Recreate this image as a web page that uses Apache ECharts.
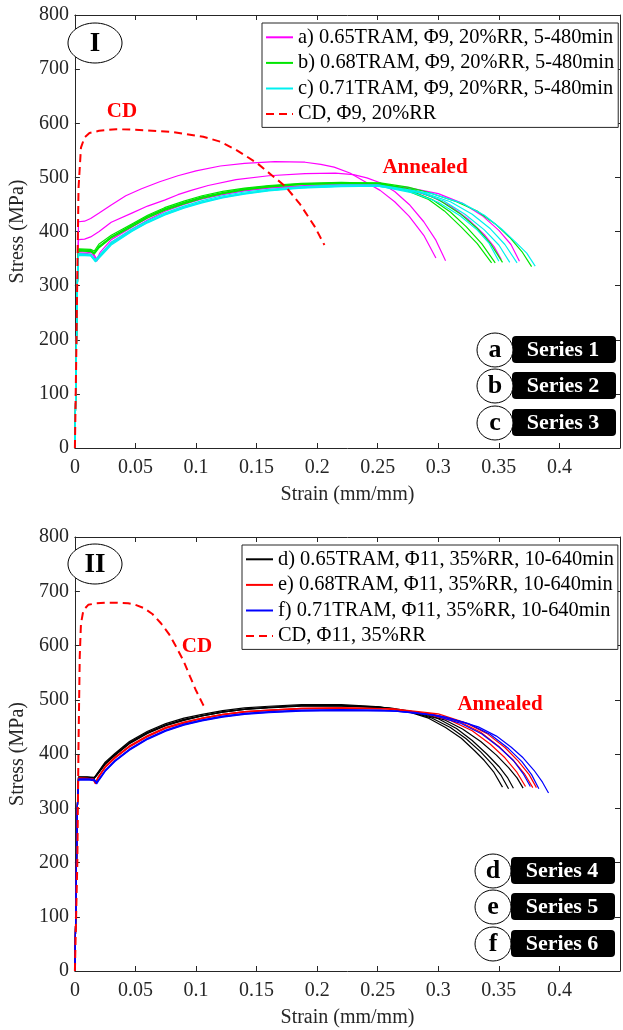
<!DOCTYPE html>
<html><head><meta charset="utf-8">
<script src="https://cdn.jsdelivr.net/npm/echarts@6/dist/echarts.min.js"></script>
<style>html,body{margin:0;padding:0;background:#fff}#c{width:623px;height:1030px}</style>
</head><body><div id="c"></div>
<script>
// ---------- Panel I data (strain, stress MPa) ----------
const namesI = ['a) 0.65TRAM, \u03A69, 20%RR, 5-480min','b) 0.68TRAM, \u03A69, 20%RR, 5-480min','c) 0.71TRAM, \u03A69, 20%RR, 5-480min','CD, \u03A69, 20%RR'];
const a1 = [[0,0],[0.002,310],[0.003,418],[0.008,419],[0.013,424],[0.02,434],[0.03,449],[0.042,466],[0.055,479],[0.07,492],[0.085,503],[0.1,512],[0.12,521],[0.14,526],[0.165,529],[0.19,528],[0.203,524],[0.214,519],[0.227,508],[0.241,490],[0.252,476],[0.264,455],[0.276,428],[0.288,393],[0.298,351]];
const a2 = [[0,0],[0.002,310],[0.003,385],[0.008,386],[0.013,390],[0.02,400],[0.03,417],[0.047,434],[0.06,447],[0.074,458],[0.085,468],[0.096,476],[0.11,485],[0.133,496],[0.16,503],[0.19,507],[0.215,508],[0.23,505],[0.241,499],[0.252,490],[0.264,474],[0.276,450],[0.288,418],[0.298,384],[0.306,346]];
const a3 = [[0,0],[0.002,300],[0.003,363],[0.01,362],[0.015,360],[0.018,349],[0.021,362],[0.03,385],[0.047,408],[0.06,425],[0.074,440],[0.09,452],[0.105,462],[0.122,470],[0.14,476],[0.16,481],[0.19,485],[0.22,487],[0.25,486],[0.275,478],[0.295,464],[0.31,447],[0.325,422],[0.338,394],[0.346,372],[0.352,348]];
const a4 = [[0,0],[0.002,300],[0.003,360],[0.01,359],[0.015,357],[0.018,345],[0.021,356],[0.03,380],[0.047,404],[0.06,421],[0.074,437],[0.09,450],[0.105,460],[0.122,468],[0.14,475],[0.16,480],[0.19,484],[0.22,486],[0.25,486],[0.275,481],[0.3,470],[0.32,452],[0.337,428],[0.35,402],[0.36,376],[0.367,345]];
const b1 = [[0,0],[0.002,300],[0.003,368],[0.013,367],[0.016,364],[0.02,377],[0.03,393],[0.047,414],[0.06,430],[0.074,444],[0.09,456],[0.105,466],[0.122,474],[0.14,480],[0.16,485],[0.187,489],[0.22,491],[0.25,489],[0.27,479],[0.292,459],[0.305,438],[0.319,408],[0.332,378],[0.344,342]];
const b2 = [[0,0],[0.002,300],[0.003,366],[0.013,365],[0.016,361],[0.02,373],[0.03,390],[0.047,411],[0.06,427],[0.074,441],[0.09,453],[0.105,463],[0.122,471],[0.14,478],[0.16,483],[0.187,487],[0.22,489],[0.252,488],[0.275,477],[0.295,459],[0.31,436],[0.323,409],[0.336,377],[0.347,342]];
const b3 = [[0,0],[0.002,300],[0.003,364],[0.013,363],[0.016,358],[0.02,370],[0.03,388],[0.047,409],[0.06,425],[0.074,439],[0.09,451],[0.105,461],[0.122,470],[0.14,477],[0.16,482],[0.187,487],[0.22,489],[0.252,489],[0.28,477],[0.3,459],[0.318,433],[0.332,406],[0.343,378],[0.353,343]];
const b4 = [[0,0],[0.002,300],[0.003,366],[0.013,365],[0.016,360],[0.02,372],[0.03,390],[0.047,412],[0.06,428],[0.074,442],[0.09,454],[0.105,464],[0.122,472],[0.14,479],[0.16,484],[0.187,488],[0.22,490],[0.252,490],[0.275,482],[0.292,472],[0.315,455],[0.332,438],[0.347,414],[0.359,389],[0.369,363],[0.377,335]];
const c1 = [[0,0],[0.002,300],[0.003,358],[0.013,357],[0.017,346],[0.021,356],[0.03,378],[0.047,402],[0.06,418],[0.074,432],[0.09,445],[0.105,455],[0.122,464],[0.14,471],[0.16,476],[0.187,481],[0.22,484],[0.25,484],[0.28,471],[0.3,454],[0.318,429],[0.332,403],[0.342,378],[0.35,345]];
const c2 = [[0,0],[0.002,300],[0.003,356],[0.013,355],[0.017,344],[0.021,353],[0.03,375],[0.047,400],[0.06,416],[0.074,430],[0.09,443],[0.105,453],[0.122,462],[0.14,469],[0.16,475],[0.187,480],[0.22,483],[0.25,484],[0.285,472],[0.305,456],[0.322,432],[0.338,403],[0.35,375],[0.359,343]];
const c3 = [[0,0],[0.002,300],[0.003,357],[0.013,356],[0.017,345],[0.021,355],[0.03,377],[0.047,401],[0.06,417],[0.074,431],[0.09,444],[0.105,454],[0.122,463],[0.14,470],[0.16,476],[0.187,481],[0.22,484],[0.25,484],[0.29,470],[0.31,455],[0.328,432],[0.343,405],[0.355,376],[0.365,342]];
const c4 = [[0,0],[0.002,300],[0.003,359],[0.013,358],[0.017,348],[0.021,358],[0.03,380],[0.047,404],[0.06,420],[0.074,434],[0.09,447],[0.105,457],[0.122,466],[0.14,473],[0.16,478],[0.187,483],[0.22,486],[0.25,486],[0.295,470],[0.32,452],[0.338,430],[0.352,405],[0.364,380],[0.373,360],[0.38,336]];
const cdI = [[0,0],[0.001,150],[0.002,320],[0.003,480],[0.005,555],[0.008,574],[0.012,582],[0.02,586],[0.034,589],[0.05,588],[0.08,584],[0.106,575],[0.12,566],[0.133,551],[0.15,527],[0.162,505],[0.174,483],[0.186,450],[0.198,409],[0.206,375]];

// ---------- Panel II data ----------
const namesII = ['d) 0.65TRAM, \u03A611, 35%RR, 10-640min','e) 0.68TRAM, \u03A611, 35%RR, 10-640min','f) 0.71TRAM, \u03A611, 35%RR, 10-640min','CD, \u03A611, 35%RR'];
const d1 = [[0,0],[0.002,300],[0.003,357],[0.01,357],[0.016,356],[0.018,363],[0.025,385],[0.033,401],[0.045,423],[0.06,442],[0.075,456],[0.09,466],[0.105,473],[0.122,480],[0.14,485],[0.16,488],[0.187,491],[0.22,491],[0.252,487],[0.275,478],[0.292,466],[0.306,449],[0.319,429],[0.33,406],[0.338,388],[0.346,366],[0.353,339]];
const d2 = [[0,0],[0.002,300],[0.003,358],[0.01,358],[0.016,357],[0.018,362],[0.025,383],[0.033,399],[0.045,421],[0.06,440],[0.075,454],[0.09,464],[0.105,471],[0.122,478],[0.14,483],[0.16,486],[0.187,489],[0.22,489],[0.25,487],[0.275,479],[0.295,466],[0.31,449],[0.323,428],[0.335,404],[0.345,380],[0.352,360],[0.358,336]];
const d3 = [[0,0],[0.002,300],[0.003,356],[0.01,356],[0.016,355],[0.018,360],[0.025,381],[0.033,397],[0.045,419],[0.06,438],[0.075,452],[0.09,462],[0.105,470],[0.122,477],[0.14,482],[0.16,486],[0.187,489],[0.22,489],[0.25,486],[0.28,477],[0.3,465],[0.315,447],[0.328,425],[0.34,400],[0.35,377],[0.357,357],[0.362,337]];
const d4 = [[0,0],[0.002,300],[0.003,357],[0.01,357],[0.016,356],[0.018,361],[0.025,382],[0.033,398],[0.045,420],[0.06,439],[0.075,453],[0.09,463],[0.105,470],[0.122,477],[0.14,482],[0.16,485],[0.187,488],[0.22,488],[0.26,485],[0.285,476],[0.305,463],[0.32,446],[0.335,423],[0.348,398],[0.358,375],[0.365,356],[0.37,337]];
const e1 = [[0,0],[0.002,300],[0.003,356],[0.01,355],[0.015,354],[0.017,346],[0.019,356],[0.025,376],[0.033,393],[0.045,414],[0.06,433],[0.075,448],[0.09,458],[0.105,466],[0.122,473],[0.14,478],[0.16,481],[0.187,484],[0.22,485],[0.26,483],[0.29,474],[0.31,462],[0.328,443],[0.343,418],[0.355,393],[0.365,366],[0.372,340]];
const e2 = [[0,0],[0.002,300],[0.003,354],[0.01,354],[0.015,353],[0.017,345],[0.019,355],[0.025,375],[0.033,392],[0.045,413],[0.06,432],[0.075,447],[0.09,457],[0.105,465],[0.122,472],[0.14,477],[0.16,480],[0.187,483],[0.22,484],[0.26,483],[0.295,474],[0.318,459],[0.335,440],[0.35,414],[0.362,388],[0.371,364],[0.378,338]];
const e3 = [[0,0],[0.002,300],[0.003,355],[0.01,355],[0.015,354],[0.017,347],[0.019,357],[0.025,377],[0.033,394],[0.045,415],[0.06,434],[0.075,449],[0.09,459],[0.105,466],[0.122,473],[0.14,478],[0.16,481],[0.187,484],[0.22,485],[0.265,483],[0.3,474],[0.322,458],[0.34,438],[0.355,412],[0.366,387],[0.375,362],[0.381,338]];
const f1 = [[0,0],[0.002,300],[0.003,353],[0.012,353],[0.016,352],[0.018,347],[0.02,353],[0.025,369],[0.033,387],[0.045,408],[0.06,428],[0.075,443],[0.09,454],[0.105,462],[0.122,469],[0.14,474],[0.16,477],[0.187,480],[0.22,481],[0.26,480],[0.295,472],[0.318,457],[0.336,437],[0.35,413],[0.362,388],[0.37,364],[0.376,340]];
const f2 = [[0,0],[0.002,300],[0.003,352],[0.012,352],[0.016,351],[0.018,345],[0.02,352],[0.025,368],[0.033,386],[0.045,407],[0.06,427],[0.075,442],[0.09,453],[0.105,461],[0.122,468],[0.14,473],[0.16,476],[0.187,479],[0.22,480],[0.265,479],[0.3,471],[0.325,456],[0.343,436],[0.358,410],[0.369,386],[0.377,362],[0.383,336]];
const f3 = [[0,0],[0.002,300],[0.003,354],[0.012,354],[0.016,353],[0.018,348],[0.02,354],[0.025,370],[0.033,388],[0.045,409],[0.06,429],[0.075,444],[0.09,455],[0.105,463],[0.122,470],[0.14,475],[0.16,478],[0.187,481],[0.22,482],[0.252,481],[0.28,477],[0.306,468],[0.333,450],[0.348,433],[0.36,413],[0.37,393],[0.379,370],[0.386,348],[0.391,328]];
const cdII = [[0,0],[0.002,200],[0.003,420],[0.004,580],[0.005,640],[0.007,665],[0.011,675],[0.018,678],[0.025,679],[0.035,679],[0.044,678],[0.05,675],[0.057,669],[0.064,658],[0.071,641],[0.078,620],[0.084,596],[0.09,570],[0.095,543],[0.1,517],[0.106,490],[0.108,484]];

// ---------- Axis ticks / annotations ----------
const xMin = 0, xMax = 0.45, xStep = 0.05;
const yMin = 0, yMax = 800, yStep = 100;
const panelLabels = ['I', 'II'];
const badgeLettersI = ['a','b','c'], badgeTextI = ['Series 1','Series 2','Series 3'];
const badgeLettersII = ['d','e','f'], badgeTextII = ['Series 4','Series 5','Series 6'];

const groupsI = [[a1,a2,a3,a4],[b1,b2,b3,b4],[c1,c2,c3,c4]];
const colorsI = ['#ff00ff','#00e600','#00f0f0'];
const groupsII = [[d1,d2,d3,d4],[e1,e2,e3],[f1,f2,f3]];
const colorsII = ['#000000','#ff0000','#0000ff'];

const FONT = '"Liberation Serif", "Times New Roman", serif';
const AX = '#262626';

function xAxisPair(gi) {
  const base = {type:'value', gridIndex:gi, min:xMin, max:xMax, interval:xStep, splitLine:{show:false},
    axisLine:{show:true, onZero:false, lineStyle:{color:AX, width:1}},
    axisTick:{show:true, inside:true, length:5, lineStyle:{color:AX}}};
  return [
    Object.assign({}, base, {position:'bottom',
      axisLabel:{show:true, margin:10, fontFamily:FONT, fontSize:20, color:AX,
        formatter: v => v > 0.44 ? '' : String(+v.toFixed(2))},
      name:'Strain (mm/mm)', nameLocation:'middle', nameGap:37,
      nameTextStyle:{fontFamily:FONT, fontSize:20, color:AX}}),
    Object.assign({}, base, {position:'top', axisLabel:{show:false}})
  ];
}
function yAxisPair(gi) {
  const base = {type:'value', gridIndex:gi, min:yMin, max:yMax, interval:yStep, splitLine:{show:false},
    axisLine:{show:true, onZero:false, lineStyle:{color:AX, width:1}},
    axisTick:{show:true, inside:true, length:5, lineStyle:{color:AX}}};
  return [
    Object.assign({}, base, {position:'left',
      axisLabel:{show:true, margin:6, fontFamily:FONT, fontSize:20, color:AX},
      name:'Stress (MPa)', nameLocation:'middle', nameGap:44,
      nameTextStyle:{fontFamily:FONT, fontSize:20, color:AX}}),
    Object.assign({}, base, {position:'right', axisLabel:{show:false}})
  ];
}

const series = [];
function addGroups(groups, colors, names, xi, yi) {
  groups.forEach((g, k) => g.forEach(d => series.push({
    type:'line', name:names[k], xAxisIndex:xi, yAxisIndex:yi, data:d, showSymbol:false, symbol:'none',
    lineStyle:{color:colors[k], width:1.2}, itemStyle:{color:colors[k]}, animation:false, silent:true})));
}
addGroups(groupsI, colorsI, namesI, 0, 0);
series.push({type:'line', name:namesI[3], xAxisIndex:0, yAxisIndex:0, data:cdI, showSymbol:false, symbol:'none',
  lineStyle:{color:'#ff0000', width:2, type:[8,5]}, itemStyle:{color:'#ff0000'}, animation:false, silent:true});
addGroups(groupsII, colorsII, namesII, 2, 2);
series.push({type:'line', name:namesII[3], xAxisIndex:2, yAxisIndex:2, data:cdII, showSymbol:false, symbol:'none',
  lineStyle:{color:'#ff0000', width:2, type:[8,5]}, itemStyle:{color:'#ff0000'}, animation:false, silent:true});

function legendFor(names, left, top) {
  return {show:true, orient:'vertical', left:left, top:top, data:names, selectedMode:false,
    itemWidth:27, itemHeight:14, itemGap:5,
    itemStyle:{opacity:0},
    textStyle:{fontFamily:FONT, fontSize:20.4, color:'#000', lineHeight:20.6},
    borderColor:AX, borderWidth:1, borderRadius:0, padding:[4,4,3,3], backgroundColor:'#fff'};
}

const graphics = [];
function panelMark(label, cx, cy) {
  graphics.push({type:'ellipse', shape:{cx:cx, cy:cy, rx:27, ry:20}, style:{fill:'#fff', stroke:'#000', lineWidth:1}, z:100});
  graphics.push({type:'text', x:cx, y:cy+1, style:{text:label, fill:'#000', font:'bold 27px ' + FONT, textAlign:'center', textVerticalAlign:'middle'}, z:101});
}
function redNote(text, cx, cy) {
  graphics.push({type:'text', x:cx, y:cy, style:{text:text, fill:'#ff0000', font:'bold 21px ' + FONT, textAlign:'center', textVerticalAlign:'middle'}, z:101});
}
function badges(letters, texts, cx, rectX, cys) {
  letters.forEach((l, i) => {
    const cy = cys[i];
    graphics.push({type:'rect', shape:{x:rectX, y:cy-14, width:104, height:27, r:4}, style:{fill:'#000'}, z:100});
    graphics.push({type:'text', x:rectX+51, y:cy, style:{text:texts[i], fill:'#fff', font:'bold 22px ' + FONT, textAlign:'center', textVerticalAlign:'middle'}, z:101});
    graphics.push({type:'ellipse', shape:{cx:cx, cy:cy, rx:18, ry:17}, style:{fill:'#fff', stroke:'#000', lineWidth:1}, z:102});
    graphics.push({type:'text', x:cx, y:cy, style:{text:l, fill:'#000', font:'bold 26px ' + FONT, textAlign:'center', textVerticalAlign:'middle'}, z:103});
  });
}
panelMark(panelLabels[0], 95, 43);
panelMark(panelLabels[1], 95, 564);
redNote('CD', 122, 112);
redNote('Annealed', 425, 168);
redNote('CD', 197, 647);
redNote('Annealed', 500, 705);
badges(badgeLettersI, badgeTextI, 495, 512, [350, 386, 423]);
badges(badgeLettersII, badgeTextII, 493, 511, [871, 907, 944]);

const chart = echarts.init(document.getElementById('c'), null, {renderer:'canvas'});
chart.setOption({
  animation:false,
  backgroundColor:'#fff',
  grid:[{left:68, top:15, width:555, height:433}, {left:69, top:537, width:554, height:434}],
  xAxis:[...xAxisPair(0), ...xAxisPair(1)],
  yAxis:[...yAxisPair(0), ...yAxisPair(1)],
  legend:[legendFor(namesI, 262, 23), legendFor(namesII, 242, 545)],
  series:series,
  graphic:graphics
});
</script></body></html>
